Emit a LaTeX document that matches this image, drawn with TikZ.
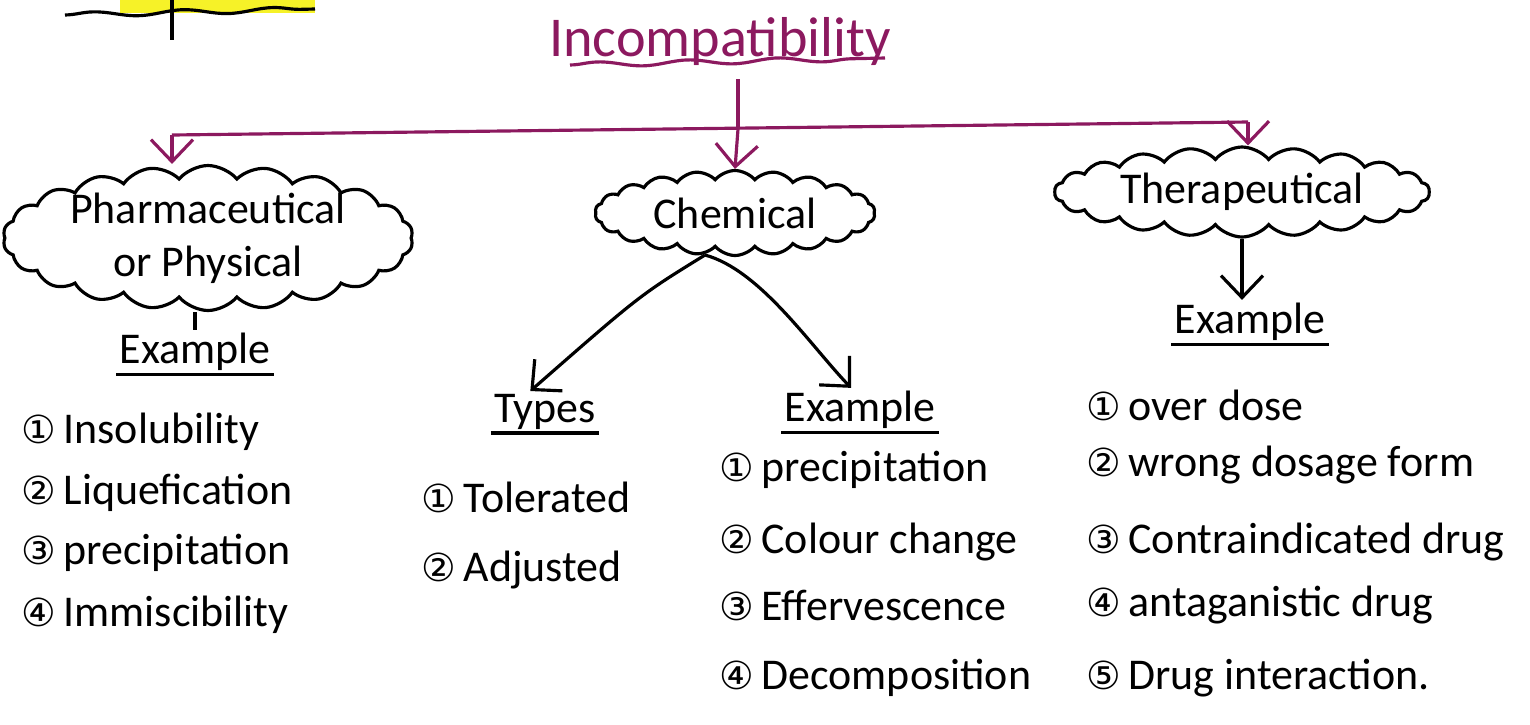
\documentclass[tikz,border=0pt]{standalone}
\usepackage{fontspec}
\setmainfont{Carlito}
\newfontfamily\numfont{DejaVu Sans}
\usetikzlibrary{shapes.symbols,arrows.meta,decorations.pathmorphing}

\definecolor{ink}{RGB}{140,25,95}
\definecolor{marker}{RGB}{246,242,40}
\newcommand{\no}[1]{{\numfont\fontsize{11}{13}\selectfont #1}\,}

\begin{document}
\begin{tikzpicture}[line width=0.9pt,
  every node/.style={font=\fontsize{12.5}{15}\selectfont},
  bubble/.style={cloud, draw, cloud puffs=22, cloud puff arc=100, cloud ignores aspect, inner sep=0pt},
  item/.style={anchor=west, inner sep=0pt},
  head/.style={inner sep=0.5pt},
  tip/.style={-{Straight Barb[length=2.2mm,width=4.2mm]}},
  wavy/.style={decorate, decoration={snake, amplitude=0.7pt, segment length=9mm}}]
\useasboundingbox (0,0) rectangle (15.3,-7.24);
\fill[white] (0,0) rectangle (15.3,-7.24);

% cut-off line at the top of the page
\fill[marker] (1.2,0) rectangle (3.15,-0.13);
\draw[wavy] (0.65,-0.15) -- (3.15,-0.09);
\draw (1.72,0) -- (1.72,-0.4);

% title and branching bar
\node[ink, font=\fontsize{16}{19}\selectfont] (title) at (7.2,-0.42) {Incompatibility};
\draw[ink, wavy] (5.7,-0.65) -- (8.85,-0.58);
\coordinate (split) at (7.38,-1.29);
\coordinate (bar-l) at (1.72,-1.35);
\coordinate (bar-r) at (12.48,-1.22);
\draw[ink] (split |- title.south) -- (split);
\draw[ink] (bar-l) -- (bar-r);

% the three kinds
\node[bubble, minimum width=4.1cm, minimum height=1.45cm] (pharma) at (2.08,-2.38) {};
\node[align=center] (pharma-txt) at (pharma) {Pharmaceutical\\or Physical};
\node[bubble, minimum width=2.8cm, minimum height=0.85cm] (chem) at (7.35,-2.13) {};
\node (chem-txt) at (chem) {Chemical};
\node[bubble, minimum width=3.75cm, minimum height=0.9cm] (thera) at (12.42,-1.92) {};
\node (thera-txt) at (thera) {Therapeutical};

\draw[ink, tip] (bar-l) -- (bar-l |- pharma.north);
\draw[ink, tip] (split) -- (chem.north);
\draw[ink, tip] (bar-r) -- (bar-r |- thera.north);

% sub headings
\node[head] (ex-ph) at (1.95,-3.52) {Example};
\node[head] (types) at (5.45,-4.12) {Types};
\node[head] (ex-ch) at (8.6,-4.1) {Example};
\node[head] (ex-th) at (12.5,-3.22) {Example};
\foreach \n in {ex-ph,types,ex-ch,ex-th}
  \draw (\n.south west) -- (\n.south east);

\draw (ex-ph.north |- pharma.south) -- (ex-ph.north);
\coordinate (fork) at (7.05,-2.55);
\draw[tip] (fork) .. controls (6.4,-2.95) .. (types.125);
\draw[tip] (fork) .. controls (7.6,-2.7) and (8.1,-3.45) .. (ex-ch.112);
\draw[tip] (thera.south) -- (thera.south |- ex-th.north);

% pharmaceutical examples
\node[item] (ph1) at (0.2,-4.32) {\no{①}Insolubility};
\node[item] (ph2) at (0.2,-4.93) {\no{②}Liquefication};
\node[item] (ph3) at (0.2,-5.53) {\no{③}precipitation};
\node[item] (ph4) at (0.2,-6.15) {\no{④}Immiscibility};

% chemical types
\node[item] (ty1) at (4.2,-4.97) {\no{①}Tolerated};
\node[item] (ty2) at (4.2,-5.7) {\no{②}Adjusted};

% chemical examples
\node[item] (ch1) at (7.18,-4.7) {\no{①}precipitation};
\node[item] (ch2) at (7.18,-5.42) {\no{②}Colour change};
\node[item] (ch3) at (7.18,-6.05) {\no{③}Effervescence};
\node[item] (ch4) at (7.18,-6.78) {\no{④}Decomposition};

% therapeutical examples
\node[item] (th1) at (10.85,-4.05) {\no{①}over dose};
\node[item] (th2) at (10.85,-4.65) {\no{②}wrong dosage form};
\node[item] (th3) at (10.85,-5.42) {\no{③}Contraindicated drug};
\node[item] (th4) at (10.85,-6.05) {\no{④}antaganistic drug};
\node[item] (th5) at (10.85,-6.78) {\no{⑤}Drug interaction.};
\end{tikzpicture}
\end{document}
